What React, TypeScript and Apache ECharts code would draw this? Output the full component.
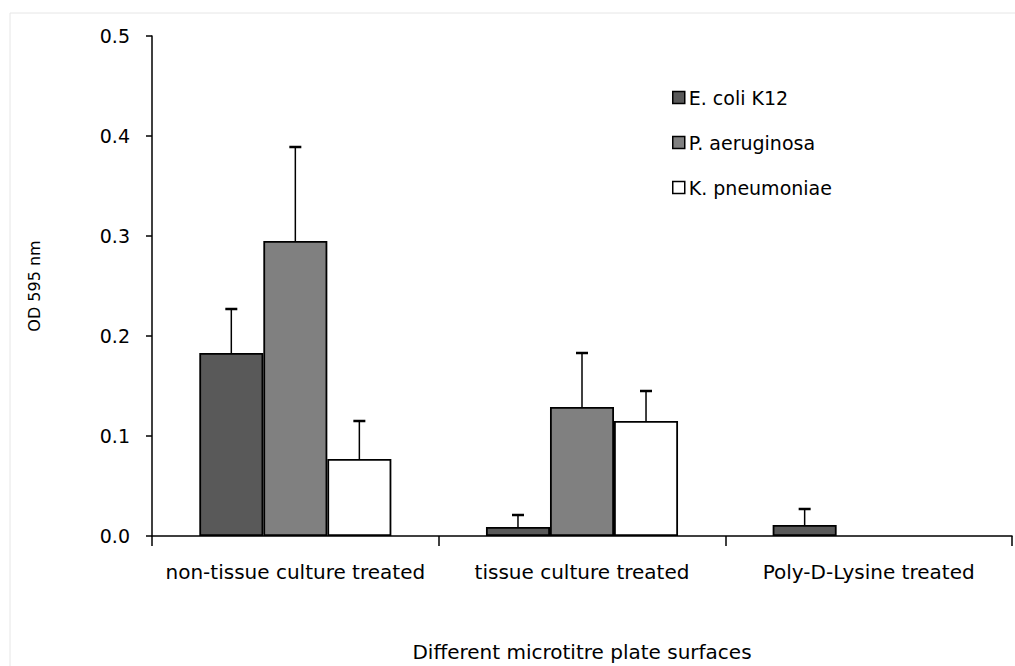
import React, { useEffect, useRef } from "react";
import * as echarts from "echarts";

const categories = ["non-tissue culture treated", "tissue culture treated", "Poly-D-Lysine treated"];
const seriesNames = ["E. coli K12", "P. aeruginosa", "K. pneumoniae"];
const ecoliValues = [0.183, 0.009, 0.011];
const paeruValues = [0.295, 0.129, 0];
const kpneuValues = [0.077, 0.115, 0];
const ecoliErrors = [0.044, 0.012, 0.016];
const paeruErrors = [0.094, 0.054, 0];
const kpneuErrors = [0.038, 0.03, 0];
const yTicks = [0, 0.1, 0.2, 0.3, 0.4, 0.5];
const colors = ["#595959", "#808080", "#ffffff"];

const FONT = "'DejaVu Sans', 'Open Sans', sans-serif";
const BAR_GAP_FRAC = 0.33;

export default function App() {
  const ref = useRef<HTMLDivElement>(null);
  useEffect(() => {
    if (!ref.current) return;
    const chart = echarts.init(ref.current, undefined, { renderer: "svg" });
    const values = [ecoliValues, paeruValues, kpneuValues];
    const errors = [ecoliErrors, paeruErrors, kpneuErrors];
    const errData: any[] = [];
    values.forEach((vals, s) => {
      vals.forEach((v, c) => {
        if (errors[s][c] > 0) errData.push([c, v, v + errors[s][c], s]);
      });
    });
    const barSeries = seriesNames.map((name, i) => ({
      name,
      type: "bar",
      data: values[i].map((v) =>
        v === 0 ? { value: v, itemStyle: { borderWidth: 0 } } : v
      ),
      barGap: "0%",
      barCategoryGap: "33%",
      itemStyle: { color: colors[i], borderColor: "#000", borderWidth: 1.8 },
      z: 2,
    }));
    const errSeries = {
      type: "custom",
      name: "err",
      data: errData,
      z: 3,
      silent: true,
      renderItem: (params: any, api: any) => {
        const c = api.value(0);
        const v = api.value(1);
        const top = api.value(2);
        const s = api.value(3);
        const catW = api.size([1, 0])[0];
        const bw = (catW * (1 - BAR_GAP_FRAC)) / 3;
        const base = api.coord([c, v]);
        const tp = api.coord([c, top]);
        const x = base[0] + (s - 1) * bw;
        const style = { stroke: "#000", lineWidth: 1.5 };
        return {
          type: "group",
          children: [
            { type: "line", shape: { x1: x, y1: base[1], x2: x, y2: tp[1] }, style },
            { type: "line", shape: { x1: x - 6, y1: tp[1], x2: x + 6, y2: tp[1] }, style: { stroke: "#000", lineWidth: 2.5 } },
          ],
        };
      },
    };
    chart.setOption({
      animation: false,
      backgroundColor: "#fff",
      textStyle: { fontFamily: FONT },
      grid: { left: 152, right: 3, top: 36, bottom: 130, containLabel: false, outerBoundsMode: "none" },
      legend: {
        data: seriesNames,
        orient: "vertical",
        left: 667,
        top: 83,
        itemWidth: 12,
        itemHeight: 12,
        itemGap: 26,
        icon: "rect",
        textStyle: { fontFamily: FONT, fontSize: 19, color: "#000", padding: [0, 0, 0, -1] },
        itemStyle: { borderColor: "#000", borderWidth: 1.5 },
      },
      xAxis: {
        type: "category",
        data: categories,
        name: "Different microtitre plate surfaces",
        nameLocation: "middle",
        nameGap: 106,
        nameTextStyle: { fontFamily: FONT, fontSize: 20, color: "#000" },
        axisLine: { lineStyle: { color: "#000", width: 1.5 } },
        axisTick: { show: true, alignWithLabel: false, length: 10, lineStyle: { color: "#000", width: 1.5 } },
        axisLabel: { fontFamily: FONT, fontSize: 20, color: "#000", margin: 26, interval: 0, hideOverlap: false },
      },
      yAxis: {
        type: "value",
        min: 0,
        max: 0.5,
        interval: 0.1,
        name: "OD 595 nm",
        nameLocation: "middle",
        nameGap: 110,
        nameRotate: 90,
        nameTextStyle: { fontFamily: FONT, fontSize: 16, color: "#000" },
        axisLine: { show: true, lineStyle: { color: "#000", width: 1.5 } },
        axisTick: { show: true, length: 6, lineStyle: { color: "#000", width: 1.5 } },
        splitLine: { show: false },
        axisLabel: {
          fontFamily: FONT,
          fontSize: 19,
          color: "#000",
          margin: 22,
          formatter: (v: number) => {
            const t = yTicks.find((y) => Math.abs(y - v) < 1e-9);
            return (t !== undefined ? t : v).toFixed(1);
          },
        },
      },
      graphic: [
        {
          type: "rect",
          shape: { x: 10, y: 13, width: 1010, height: 660 },
          style: { fill: "none", stroke: "#e6e6e6", lineWidth: 1 },
          silent: true,
          z: -1,
        },
      ],
      series: [...barSeries, errSeries],
    });
    return () => chart.dispose();
  }, []);
  return (
    <div
      ref={ref}
      style={{ position: "absolute", left: 0, top: 0, width: 1015, height: 666 }}
    />
  );
}
